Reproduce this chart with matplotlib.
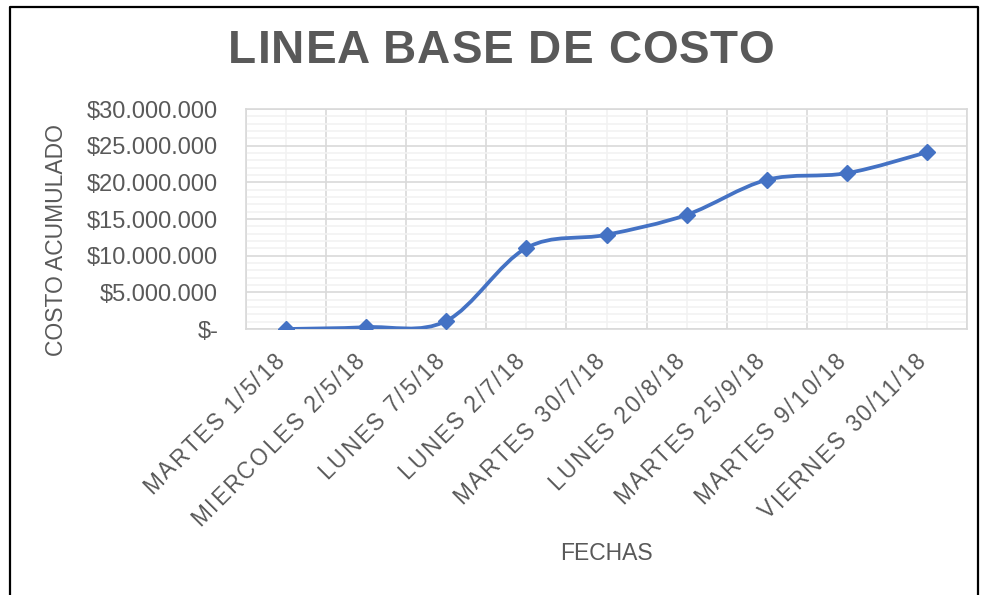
import numpy as np
import matplotlib.pyplot as plt
from matplotlib.path import Path
from matplotlib.patches import PathPatch
from matplotlib.lines import Line2D
from matplotlib.ticker import MultipleLocator, FuncFormatter

plt.rcParams['font.family'] = ['Liberation Sans', 'DejaVu Sans']

fechas = ['MARTES 1/5/18', 'MIERCOLES 2/5/18', 'LUNES 7/5/18', 'LUNES 2/7/18',
          'MARTES 30/7/18', 'LUNES 20/8/18', 'MARTES 25/9/18', 'MARTES 9/10/18',
          'VIERNES 30/11/18']
costo = [0, 250000, 1100000, 11050000, 12850000, 15570000, 20340000, 21250000, 24100000]

titulo = 'LINEA BASE DE COSTO'
gris = '#595959'
azul = '#4472C4'
W, H = 984, 595


def smooth_path(x, y):
    # bezier like excel's smoothed line (catmull-rom control points)
    pts = np.column_stack([x, y]).astype(float)
    ext = np.vstack([pts[0], pts, pts[-1]])
    verts = [pts[0]]
    codes = [Path.MOVETO]
    for i in range(len(pts) - 1):
        p0, p1, p2, p3 = ext[i], ext[i + 1], ext[i + 2], ext[i + 3]
        verts += [p1 + (p2 - p0) / 6, p2 - (p3 - p1) / 6, p2]
        codes += [Path.CURVE4] * 3
    return Path(verts, codes)


def money(v, pos):
    if v == 0:
        return '$-'
    return '$' + f'{int(v):,}'.replace(',', '.')


fig = plt.figure(figsize=(W / 100, H / 100), dpi=100)
ax = fig.add_axes([246 / W, 1 - 329 / H, (967 - 246) / W, 220 / H])
r = fig.canvas.get_renderer()


def w(s, **kw):
    t = fig.text(0, 0, s, **kw)
    e = t.get_window_extent(r).width
    t.remove()
    return e


def spaced_text(s, px, py, esp, angle=0, ha='left', **kw):
    # draws s letter by letter with extra spacing; px, py in pixels from top-left
    total = w(s, **kw) + esp * (len(s) - 1)
    a = np.deg2rad(angle)
    ux, uy = np.cos(a), -np.sin(a)
    start = {'left': 0, 'center': total / 2, 'right': total}[ha]
    for i, ch in enumerate(s):
        if ch == ' ':
            continue
        d = w(s[:i + 1], **kw) - w(ch, **kw) + esp * i - start
        fig.text((px + d * ux) / W, 1 - (py + d * uy) / H, ch, ha='left',
                 va='center', rotation=angle, rotation_mode='anchor', **kw)


x = np.arange(len(fechas))
ax.add_patch(PathPatch(smooth_path(x, costo), fill=False, edgecolor=azul,
                       linewidth=2.7, capstyle='round', zorder=3))
ax.plot(x, costo, linestyle='none', marker='D', markersize=8.4, color=azul, zorder=4)

ax.set_xlim(-0.5, len(fechas) - 0.5)
ax.set_ylim(0, 30000000)
ax.set_xticks(x)
ax.set_xticks(np.arange(len(fechas) + 1) - 0.5, minor=True)
ax.set_xticklabels([])
ax.yaxis.set_major_locator(MultipleLocator(5000000))
ax.yaxis.set_minor_locator(MultipleLocator(1000000))
ax.yaxis.set_major_formatter(FuncFormatter(money))

ax.grid(True, axis='x', which='major', color='#F2F2F2', linewidth=1.2, zorder=0)
ax.grid(True, axis='x', which='minor', color='#D9D9D9', linewidth=1.2, zorder=1)
ax.grid(True, axis='y', which='minor', color='#F2F2F2', linewidth=1.2, zorder=0)
ax.grid(True, axis='y', which='major', color='#D9D9D9', linewidth=1.2, zorder=1)
ax.set_axisbelow(True)
for s in ax.spines.values():
    s.set_color('#D9D9D9')
    s.set_linewidth(1.2)

ax.tick_params(axis='both', which='both', length=0, colors=gris, labelsize=17)
ax.tick_params(axis='y', pad=20)

# rotated category labels, letter spaced like excel
for i, f in enumerate(fechas):
    tx = ax.transData.transform((i, 0))[0]
    spaced_text(f, tx - 5, 329 + 28, 2.1, angle=45, ha='right', fontsize=16.3, color=gris)

fig.text(57 / W, 1 - 240 / H, 'COSTO ACUMULADO', rotation=90, ha='center',
         va='center', fontsize=16.5, color=gris)
fig.text(606 / W, 1 - 553 / H, 'FECHAS', ha='center', va='center',
         fontsize=16.5, color=gris)

spaced_text(titulo, 501, 51, 1.0, ha='center', fontsize=33, fontweight='bold', color=gris)

# chart frame
fig.add_artist(Line2D([10 / W, 10 / W, 978 / W, 978 / W], [0, 1 - 7 / H, 1 - 7 / H, 0],
                      transform=fig.transFigure, color='black', linewidth=1.6))

fig.savefig('out.png', dpi=100)
